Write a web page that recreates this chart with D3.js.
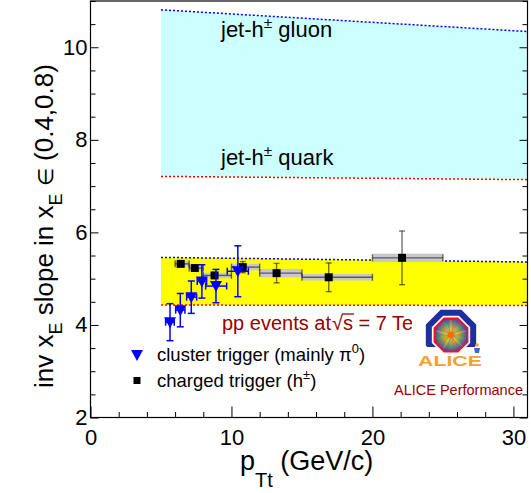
<!DOCTYPE html>
<html><head><meta charset="utf-8">
<script src="https://cdn.jsdelivr.net/npm/d3@7"></script>
<style>body{margin:0;background:#fff} svg{display:block} text{font-family:"Liberation Sans",Arial,Helvetica,sans-serif}</style>
</head><body><svg id="c" width="531" height="493"></svg>
<script>
// ---- data ----
const bandX=[5,31];
const gluonLine=[10.81,10.34];
const quarkLine=[7.21,7.14];
const ppUpper=[5.46,5.36];
const ppLower=[4.43,4.42];

const chX=[6.4,7.4,8.8,10.8,13.2,16.9,22.1];
const chY=[5.32,5.23,5.07,5.25,5.12,5.03,5.45];
const chXlo=[6,7,8,10,12,15,20];
const chXhi=[7,8,10,12,15,20,25];
const chErr=[0.03,0.04,0.05,0.12,0.21,0.31,0.58];
const chSys=[0.06,0.07,0.06,0.07,0.09,0.07,0.09];

const clX=[5.64,6.37,7.15,7.9,8.9,10.45];
const clY=[4.06,4.32,4.60,4.94,4.84,5.16];
const clXlo=[5.33,6.04,6.82,7.57,8.17,9.7];
const clXhi=[5.94,6.7,7.53,8.24,9.66,11.2];
const clErr=[0.40,0.36,0.35,0.36,0.36,0.55];

const xTicks=[0,10,20,30];
const yTicks=[2,4,6,8,10];
const xMinor=d3.range(0,31,2);
const yMinor=d3.range(2,11.01,0.5);

// ---- setup ----
const svg=d3.select("#c");
const x=d3.scaleLinear().domain([0,31]).range([90.5,527.5]);
const y=d3.scaleLinear().domain([2,11]).range([417.5,1]);
const FONT='"Liberation Sans",Arial,Helvetica,sans-serif';

function band(upper,lower,fill){
  const pts=[[bandX[0],upper[0]],[bandX[1],upper[1]],[bandX[1],lower[1]],[bandX[0],lower[0]]];
  svg.append("path").attr("d",d3.line().x(d=>x(d[0])).y(d=>y(d[1]))(pts)+"Z").attr("fill",fill);
}
function dotted(vals,color){
  svg.append("path").attr("d",d3.line().x(d=>x(d[0])).y(d=>y(d[1]))([[bandX[0],vals[0]],[bandX[1],vals[1]]]))
    .attr("stroke",color).attr("stroke-width",1.5).attr("stroke-dasharray","2,2").attr("fill","none");
}
band(gluonLine,quarkLine,"#ccffff");
band(ppUpper,ppLower,"#ffff00");
dotted(gluonLine,"#0000ff");dotted(quarkLine,"#ff0000");
dotted(ppUpper,"#0000ff");dotted(ppLower,"#ff0000");

function supText(g,xx,yy,parts,size,color){
  const t=g.append("text").attr("x",xx).attr("y",yy).attr("font-size",size).attr("fill",color);
  parts.forEach(p=>{
    const ts=t.append("tspan").text(p.t);
    if(p.sup){ts.attr("font-size",size*0.7).attr("dy",-size*0.42);}
    if(p.back){ts.attr("dy",p.back);}
  });
  return t;
}
supText(svg,221,37,[{t:"jet-h"},{t:"±",sup:true},{t:" gluon",back:22*0.42}],22,"#000");
supText(svg,221,165,[{t:"jet-h"},{t:"±",sup:true},{t:" quark",back:22*0.42}],22,"#000");

// ---- charged trigger ----
const gC=svg.append("g");
chX.forEach((v,i)=>{
  gC.append("rect").attr("x",x(chXlo[i])).attr("width",x(chXhi[i])-x(chXlo[i]))
    .attr("y",y(chY[i]+chSys[i])).attr("height",y(chY[i]-chSys[i])-y(chY[i]+chSys[i])).attr("fill","#c8c8c8");
});
const gE=svg.append("g").attr("stroke","#000").attr("stroke-opacity",0.55).attr("stroke-width",1.4);
chX.forEach((v,i)=>{
  const cx=x(v),cy=y(chY[i]);
  gE.append("line").attr("x1",x(chXlo[i])).attr("x2",x(chXhi[i])).attr("y1",cy).attr("y2",cy);
  gE.append("line").attr("x1",x(chXlo[i])).attr("x2",x(chXlo[i])).attr("y1",cy-3.5).attr("y2",cy+3.5);
  gE.append("line").attr("x1",x(chXhi[i])).attr("x2",x(chXhi[i])).attr("y1",cy-3.5).attr("y2",cy+3.5);
  const yt=y(chY[i]+chErr[i]),yb=y(chY[i]-chErr[i]);
  gE.append("line").attr("x1",cx).attr("x2",cx).attr("y1",yt).attr("y2",yb);
  gE.append("line").attr("x1",cx-3).attr("x2",cx+3).attr("y1",yt).attr("y2",yt);
  gE.append("line").attr("x1",cx-3).attr("x2",cx+3).attr("y1",yb).attr("y2",yb);
});
chX.forEach((v,i)=>{
  svg.append("rect").attr("x",x(v)-4).attr("y",y(chY[i])-4).attr("width",8).attr("height",8).attr("fill","#000");
});

// ---- cluster trigger ----
const gB=svg.append("g").attr("stroke","#0000ff").attr("stroke-width",1.5);
clX.forEach((v,i)=>{
  const cx=x(v),cy=y(clY[i]);
  const yt=y(clY[i]+clErr[i]),yb=y(clY[i]-clErr[i]);
  gB.append("line").attr("x1",cx).attr("x2",cx).attr("y1",yt).attr("y2",yb);
  gB.append("line").attr("x1",cx-3.5).attr("x2",cx+3.5).attr("y1",yt).attr("y2",yt);
  gB.append("line").attr("x1",cx-3.5).attr("x2",cx+3.5).attr("y1",yb).attr("y2",yb);
  gB.append("line").attr("x1",x(clXlo[i])).attr("x2",x(clXhi[i])).attr("y1",cy).attr("y2",cy);
  gB.append("line").attr("x1",x(clXlo[i])).attr("x2",x(clXlo[i])).attr("y1",cy-3.5).attr("y2",cy+3.5);
  gB.append("line").attr("x1",x(clXhi[i])).attr("x2",x(clXhi[i])).attr("y1",cy-3.5).attr("y2",cy+3.5);
});
const tri="M-6,-5L6,-5L0,6Z";
clX.forEach((v,i)=>{
  svg.append("path").attr("d",tri).attr("transform",`translate(${x(v)},${y(clY[i])})`).attr("fill","#0000ff");
});

// ---- axes ----
const ax=svg.append("g").attr("font-family",FONT);
ax.append("g").attr("transform","translate(0,417.5)")
  .call(d3.axisBottom(x).tickValues(xTicks).tickSizeInner(-11).tickSizeOuter(0).tickPadding(12).tickFormat(d3.format("d")));
ax.append("g").attr("transform","translate(0,417.5)")
  .call(d3.axisBottom(x).tickValues(xMinor.filter(v=>v%10)).tickSizeInner(-5.5).tickSizeOuter(0).tickFormat(""));
ax.append("g").attr("transform","translate(90.5,0)")
  .call(d3.axisLeft(y).tickValues(yTicks).tickSizeInner(-8).tickSizeOuter(0).tickPadding(3).tickFormat(d3.format("d")));
ax.append("g").attr("transform","translate(90.5,0)")
  .call(d3.axisLeft(y).tickValues(yMinor.filter(v=>v%2)).tickSizeInner(-5).tickSizeOuter(0).tickFormat(""));
ax.append("g").attr("transform","translate(527.5,0)")
  .call(d3.axisRight(y).tickValues(yTicks).tickSizeInner(-8).tickSizeOuter(0).tickFormat(""));
ax.append("g").attr("transform","translate(527.5,0)")
  .call(d3.axisRight(y).tickValues(yMinor.filter(v=>v%2)).tickSizeInner(-5).tickSizeOuter(0).tickFormat(""));
ax.selectAll(".domain").remove();
ax.selectAll("line").attr("stroke","#000").attr("stroke-width",1);
ax.selectAll("text").attr("font-size",22).attr("fill","#000").attr("font-family",FONT);
svg.append("rect").attr("x",90.5).attr("y",y(11)).attr("width",437).attr("height",y(2)-y(11))
  .attr("fill","none").attr("stroke","#000").attr("stroke-width",1.2);

// axis titles
const xt=svg.append("text").attr("x",240).attr("y",470).attr("font-size",27).attr("fill","#000");
xt.append("tspan").text("p");
xt.append("tspan").text("Tt").attr("font-size",20).attr("dy",17);
xt.append("tspan").text(" (GeV/c)").attr("dy",-17);

const yt=svg.append("text").attr("transform","translate(53,388) rotate(-90)").attr("font-size",26).attr("fill","#000");
yt.append("tspan").text("inv x");
yt.append("tspan").text("E").attr("font-size",18).attr("dy",9);
yt.append("tspan").text(" slope in x").attr("dy",-9);
yt.append("tspan").text("E").attr("font-size",18).attr("dy",9);
yt.append("tspan").text(" ").attr("dy",-9);
yt.append("tspan").text("∈").attr("font-size",21);
yt.append("tspan").text(" (0.4,0.8)");

// ---- legend ----
svg.append("path").attr("d",tri).attr("transform","translate(137,355)").attr("fill","#0000ff");
supText(svg,157,361,[{t:"cluster trigger (mainly π"},{t:"0",sup:true},{t:")",back:18.5*0.42}],18.5,"#000");
svg.append("rect").attr("x",133.5).attr("y",377).attr("width",7).attr("height",7).attr("fill","#000");
supText(svg,157,387,[{t:"charged trigger (h"},{t:"±",sup:true},{t:")",back:18.5*0.42}],18.5,"#000");

// pp events text
const pp=svg.append("text").attr("x",222).attr("y",330).attr("font-size",20).attr("fill","#990000");
pp.append("tspan").text("pp events at");
pp.append("tspan").text("√").attr("dx",1);
pp.append("tspan").text("s");
pp.append("tspan").text(" = 7 TeV");
{
  const node=pp.node();
  const s0=node.getStartPositionOfChar(13).x, s1=node.getEndPositionOfChar(13).x;
  svg.append("line").attr("x1",s0-1).attr("x2",s1+1).attr("y1",314).attr("y2",314)
    .attr("stroke","#990000").attr("stroke-width",1.3);
}

svg.append("text").attr("x",394).attr("y",395).attr("font-size",14.5).attr("fill","#990000").text("ALICE Performance");

// ---- ALICE logo ----
const logo=svg.append("g");
logo.append("rect").attr("x",412).attr("y",309).attr("width",80).attr("height",64).attr("fill","#fff");
function oct(r){return d3.range(8).map(k=>{const a=Math.PI/8+k*Math.PI/4;return [451+r*Math.cos(a),335+r*Math.sin(a)];});}
const defs=svg.append("defs");
defs.append("clipPath").attr("id","topcut").append("rect").attr("x",410).attr("y",300).attr("width",90).attr("height",47);
const rg=defs.append("radialGradient").attr("id","burst");
rg.append("stop").attr("offset","0%").attr("stop-color","#ff8a00");
rg.append("stop").attr("offset","35%").attr("stop-color","#d9c030");
rg.append("stop").attr("offset","70%").attr("stop-color","#6a8a70");
rg.append("stop").attr("offset","100%").attr("stop-color","#5b3aa0");
logo.append("path").attr("d","M"+oct(24).join("L")+"Z").attr("fill","none").attr("stroke","#1f2f9f").attr("stroke-width",6).attr("clip-path","url(#topcut)");
logo.append("path").attr("d","M"+oct(18).join("L")+"Z").attr("fill","url(#burst)").attr("stroke","#ff1020").attr("stroke-width",1.6);
const rayCols=["#ff4040","#40c040","#4060ff","#ffd020","#c040c0"];
d3.range(24).forEach(k=>{const a=k*Math.PI/12;
  logo.append("line").attr("x1",451).attr("y1",335).attr("x2",451+15*Math.cos(a)).attr("y2",335+15*Math.sin(a))
   .attr("stroke",rayCols[k%5]).attr("stroke-width",0.7).attr("stroke-opacity",0.7);});
logo.append("circle").attr("cx",451).attr("cy",335).attr("r",3).attr("fill","#ff6a00");
logo.append("text").attr("x",418).attr("y",366).attr("font-size",15.5).attr("font-weight","bold").attr("fill","#f7a030")
  .attr("textLength",64).attr("lengthAdjust","spacingAndGlyphs").text("ALICE");
logo.append("circle").attr("cx",477).attr("cy",345).attr("r",1.8).attr("fill","#f7a030");
logo.append("path").attr("d","M474,348L480,348L479,353L475,353Z").attr("fill","#3a6ad0");
</script></body></html>
